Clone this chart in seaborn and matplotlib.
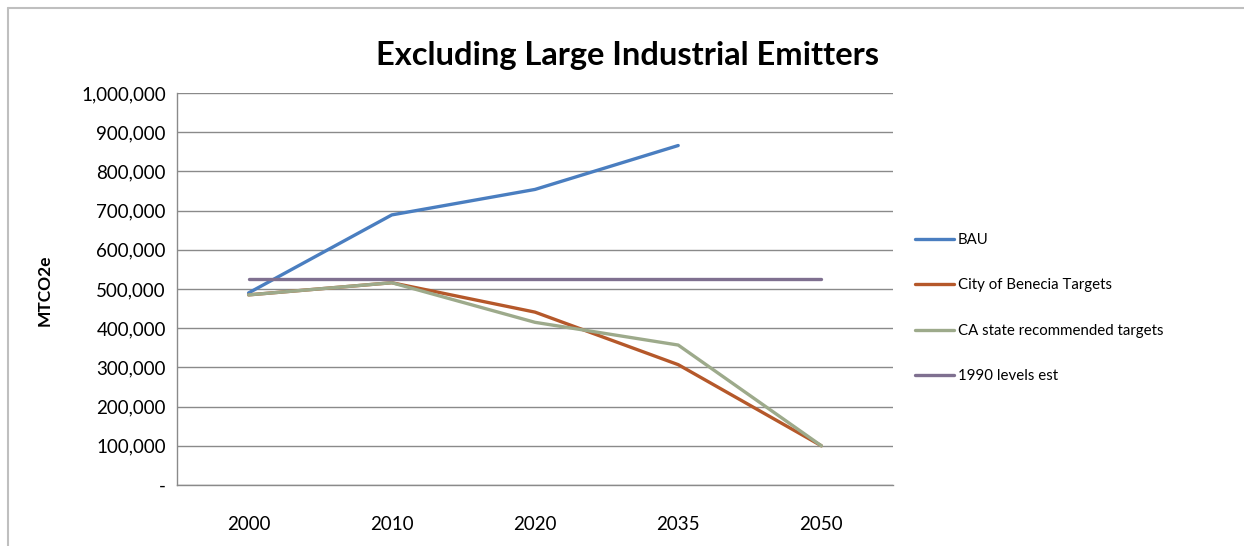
import matplotlib
matplotlib.use("Agg")
import matplotlib.pyplot as plt
import matplotlib.lines as mlines
from matplotlib.ticker import FuncFormatter
import seaborn as sns
import pandas as pd
import numpy as np

years = ["2000", "2010", "2020", "2035", "2050"]
bau = [490000, 689000, 754000, 866000, np.nan]
benecia = [485000, 516000, 441000, 307000, 100000]
ca_state = [485000, 516000, 415000, 357000, 100000]
levels_1990 = [526000, 526000, 526000, 526000, 526000]

series_names = ["BAU", "City of Benecia Targets", "CA state recommended targets", "1990 levels est"]
series_values = [bau, benecia, ca_state, levels_1990]
colors = ["#4A7EC0", "#B5582A", "#9DAA8B", "#7F7090"]

rows = []
for name, vals in zip(series_names, series_values):
    for i, (yr, v) in enumerate(zip(years, vals)):
        rows.append({"pos": i, "year": yr, "value": v, "series": name})
df = pd.DataFrame(rows)

sns.set_theme(style="white")
plt.rcParams["font.family"] = ["Lato", "DejaVu Sans"]
plt.rcParams["text.color"] = "#000000"
plt.rcParams["xtick.color"] = "#000000"
plt.rcParams["ytick.color"] = "#000000"

fig = plt.figure(figsize=(12.44, 5.46), dpi=100)
ax = fig.add_axes([177/1244, 1-485/546, (893-177)/1244, (485-93)/546])

sns.lineplot(data=df, x="pos", y="value", hue="series", hue_order=series_names,
             palette=colors, linewidth=2.4, ax=ax, legend=True, sort=False)

ax.set_xlim(-0.5, len(years) - 0.5)
ax.set_ylim(0, 1000000)
ax.set_xticks(range(len(years)))
ax.set_xticklabels(years)
ax.set_yticks(np.arange(0, 1000001, 100000))
ax.yaxis.set_major_formatter(FuncFormatter(lambda v, p: "-" if v == 0 else f"{int(v):,}"))
ax.tick_params(axis="y", labelsize=13.5, pad=8, length=0, labelcolor="#000000")
ax.tick_params(axis="x", labelsize=13.5, pad=22, length=0, labelcolor="#000000")
ax.grid(axis="y", color="#8A8A8A", linewidth=1.0)
ax.grid(axis="x", visible=False)
ax.set_axisbelow(True)
for s in ["top", "right"]:
    ax.spines[s].set_visible(False)
for s in ["left", "bottom"]:
    ax.spines[s].set_color("#8A8A8A")
    ax.spines[s].set_linewidth(1.0)
ax.set_xlabel("")
ax.set_ylabel("")

fig.text(45/1244, 1-290/546, "MTCO2e", rotation=90, ha="center", va="center",
         fontsize=12.5, fontweight="bold", color="#000000")
fig.text(627/1244, 1-55/546, "Excluding Large Industrial Emitters", ha="center", va="center",
         fontsize=23.5, fontweight="bold", color="#000000")

handles, labels = ax.get_legend_handles_labels()
ax.get_legend().remove()
leg = fig.legend(handles, labels, loc="center left", bbox_to_anchor=(915/1244, 1-308/546),
                 frameon=False, fontsize=10.8, handlelength=2.6, handletextpad=0.25,
                 labelspacing=2.1, borderpad=0, borderaxespad=0)
for t in leg.get_texts():
    t.set_color("#000000")

fig.add_artist(mlines.Line2D([8/1244, 1.0], [1-7.5/546, 1-7.5/546], color="#BFBFBF",
                             linewidth=1.5, transform=fig.transFigure))
fig.add_artist(mlines.Line2D([8/1244, 8/1244], [0, 1-7.5/546], color="#BFBFBF",
                             linewidth=1.5, transform=fig.transFigure))

fig.savefig("out.png", dpi=100)
